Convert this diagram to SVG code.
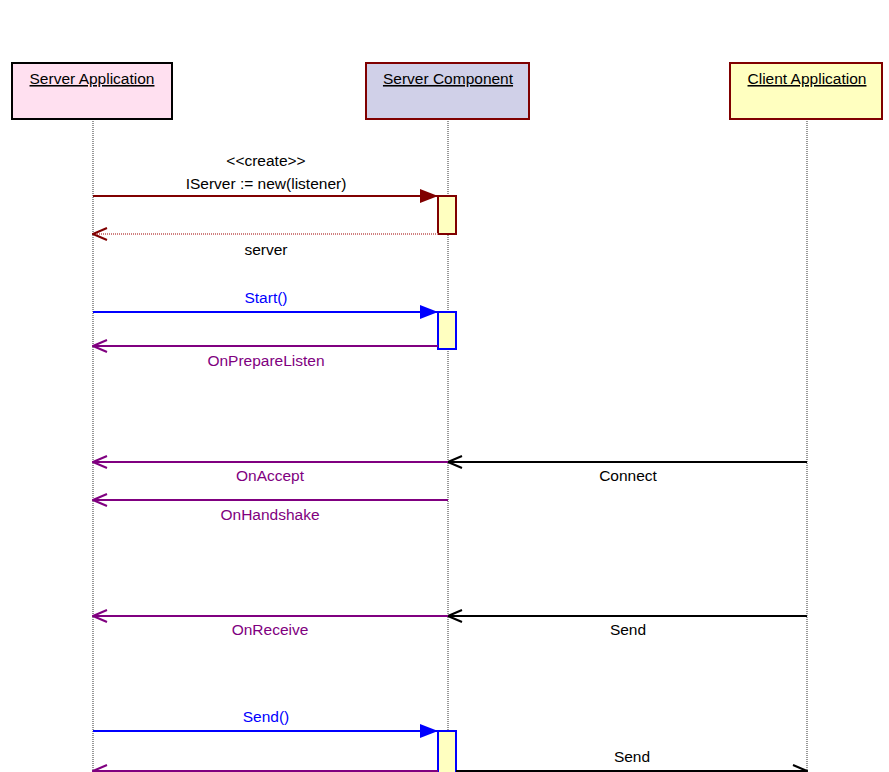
<svg xmlns="http://www.w3.org/2000/svg" width="889" height="772" viewBox="0 0 889 772">
<style>
text{font-family:"Liberation Sans",Arial,sans-serif;font-size:15.5px;text-anchor:middle}
.title{text-decoration:underline;fill:#000}
.life{stroke:#777;stroke-width:1.5;stroke-dasharray:1 1;fill:none}
.red{stroke:#800000;stroke-width:2;fill:none}
.blue{stroke:#0000ff;stroke-width:2;fill:none}
.purple{stroke:#800080;stroke-width:2;fill:none}
.black{stroke:#000;stroke-width:2;fill:none}
.act{fill:#ffffc0;stroke-width:2}
</style>
<defs>
<marker id="fRed" markerWidth="18" markerHeight="14" refX="18" refY="7" orient="auto" markerUnits="userSpaceOnUse"><path d="M0,0 L18,7 L0,14 Z" fill="#800000"/></marker>
<marker id="fBlue" markerWidth="18" markerHeight="14" refX="18" refY="7" orient="auto" markerUnits="userSpaceOnUse"><path d="M0,0 L18,7 L0,14 Z" fill="#0000ff"/></marker>
<marker id="oRed" markerWidth="16" markerHeight="14" refX="15" refY="7" orient="auto" markerUnits="userSpaceOnUse"><path d="M1,1 L15,7 L1,13" fill="none" stroke="#800000" stroke-width="2"/></marker>
<marker id="oPurple" markerWidth="16" markerHeight="14" refX="15" refY="7" orient="auto" markerUnits="userSpaceOnUse"><path d="M1,1 L15,7 L1,13" fill="none" stroke="#800080" stroke-width="2"/></marker>
<marker id="oBlack" markerWidth="16" markerHeight="14" refX="15" refY="7" orient="auto" markerUnits="userSpaceOnUse"><path d="M1,1 L15,7 L1,13" fill="none" stroke="#000" stroke-width="2"/></marker>
</defs>
<rect width="889" height="772" fill="#fff"/>
<g id="lifelines">
<line class="life" x1="93" y1="119" x2="93" y2="772"/>
<line class="life" x1="448" y1="119" x2="448" y2="772"/>
<line class="life" x1="807" y1="119" x2="807" y2="772"/>
</g>
<g id="server-application">
<rect x="12" y="63" width="160" height="56" fill="#ffe0f0" stroke="#000" stroke-width="2"/>
<text class="title" x="92" y="84">Server Application</text>
</g>
<g id="server-component">
<rect x="366" y="63" width="163" height="56" fill="#d0d0e8" stroke="#800000" stroke-width="2"/>
<text class="title" x="448" y="84">Server Component</text>
</g>
<g id="client-application">
<rect x="730" y="63" width="152" height="56" fill="#ffffc0" stroke="#800000" stroke-width="2"/>
<text class="title" x="807" y="84">Client Application</text>
</g>
<g id="activations">
<rect class="act" x="438" y="196" width="18" height="38" stroke="#800000"/>
<rect class="act" x="438" y="312" width="18" height="37" stroke="#0000ff"/>
<rect class="act" x="438" y="731" width="18" height="50" stroke="#0000ff"/>
</g>
<g id="connectors">
<line class="red" x1="93" y1="196" x2="438" y2="196" marker-end="url(#fRed)"/>
<text x="266" y="166">&lt;&lt;create&gt;&gt;</text>
<text x="266" y="189">IServer := new(listener)</text>
<line x1="438" y1="234" x2="93" y2="234" stroke="#d08080" stroke-width="2" stroke-dasharray="1 1" marker-end="url(#oRed)"/>
<text x="266" y="255">server</text>

<line class="blue" x1="93" y1="312" x2="438" y2="312" marker-end="url(#fBlue)"/>
<text x="266" y="303" fill="#0000ff">Start()</text>
<line class="purple" x1="438" y1="346" x2="93" y2="346" marker-end="url(#oPurple)"/>
<text x="266" y="366" fill="#800080">OnPrepareListen</text>

<line class="black" x1="807" y1="462" x2="448" y2="462" marker-end="url(#oBlack)"/>
<text x="628" y="481">Connect</text>
<line class="purple" x1="448" y1="462" x2="93" y2="462" marker-end="url(#oPurple)"/>
<text x="270" y="481" fill="#800080">OnAccept</text>
<line class="purple" x1="448" y1="500" x2="93" y2="500" marker-end="url(#oPurple)"/>
<text x="270" y="520" fill="#800080">OnHandshake</text>

<line class="black" x1="807" y1="616" x2="448" y2="616" marker-end="url(#oBlack)"/>
<text x="628" y="635">Send</text>
<line class="purple" x1="448" y1="616" x2="93" y2="616" marker-end="url(#oPurple)"/>
<text x="270" y="635" fill="#800080">OnReceive</text>

<line class="blue" x1="93" y1="731" x2="438" y2="731" marker-end="url(#fBlue)"/>
<text x="266" y="722" fill="#0000ff">Send()</text>
<line class="purple" x1="438" y1="771" x2="93" y2="771" marker-end="url(#oPurple)"/>
<line class="black" x1="456" y1="771" x2="807" y2="771" marker-end="url(#oBlack)"/>
<text x="632" y="762">Send</text>
</g>
</svg>
